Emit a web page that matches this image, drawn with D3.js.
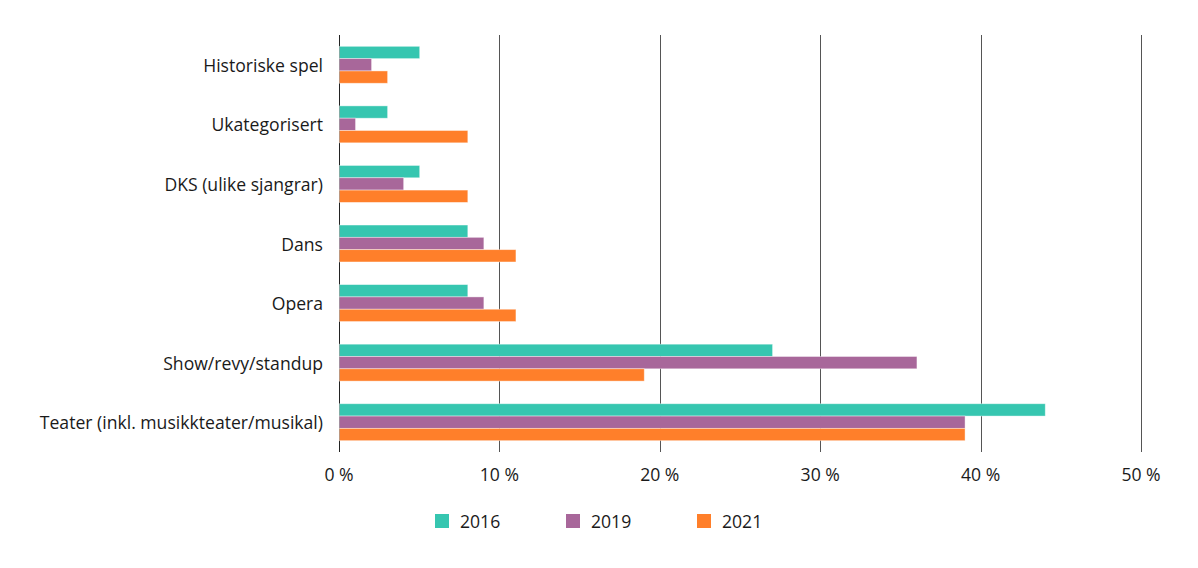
<!DOCTYPE html>
<html>
<head>
<meta charset="utf-8">
<script src="https://cdn.jsdelivr.net/npm/d3@7"></script>
<style>
  body { margin: 0; background: #fff; }
  text { font-family: "Open Sans", sans-serif; fill: #1a1a1a; }
</style>
</head>
<body>
<svg id="chart" width="1198" height="568"></svg>
<script>
var categories = ["Historiske spel", "Ukategorisert", "DKS (ulike sjangrar)", "Dans", "Opera", "Show/revy/standup", "Teater (inkl. musikkteater/musikal)"];
var years = ["2016", "2019", "2021"];
var values2016 = [5, 3, 5, 8, 8, 27, 44];
var values2019 = [2, 1, 4, 9, 9, 36, 39];
var values2021 = [3, 8, 8, 11, 11, 19, 39];
var ticks = [0, 10, 20, 30, 40, 50];
var colors = ["#36c6b0", "#a8679a", "#ff7f2a"];

var series = [values2016, values2019, values2021];

var svg = d3.select("#chart");

var x = d3.scaleLinear().domain([0, 50]).range([339, 1141]);
var y = d3.scaleBand().domain(categories).range([35, 452]).paddingInner(0.38).paddingOuter(0.19);
var y2 = d3.scaleBand().domain(years).range([0, y.bandwidth()]);

// gridlines
svg.append("g").selectAll("line")
    .data(ticks)
    .enter()
    .append("line")
        .attr("x1", function (d) { return Math.round(x(d)) + 0.5; })
        .attr("x2", function (d) { return Math.round(x(d)) + 0.5; })
        .attr("y1", 35)
        .attr("y2", 452)
        .attr("stroke", function (d) { return d === 0 ? "#222" : "#555"; })
        .attr("stroke-width", 1);

// bars
var groups = svg.append("g").selectAll("g")
    .data(categories)
    .enter()
    .append("g")
        .attr("transform", function (d) { return "translate(0," + y(d) + ")"; });

groups.selectAll("rect")
    .data(function (d, i) { return years.map(function (yr, j) { return {year: yr, value: series[j][i], c: colors[j]}; }); })
    .enter()
    .append("rect")
        .attr("x", x(0) + 0.5)
        .attr("y", function (d) { return y2(d.year); })
        .attr("width", function (d) { return x(d.value) - x(0); })
        .attr("height", y2.bandwidth())
        .attr("fill", function (d) { return d.c; })
        .attr("stroke", "#fff")
        .attr("stroke-opacity", 0.5)
        .attr("stroke-width", 0.8);

// category labels
svg.append("g").selectAll("text")
    .data(categories)
    .enter()
    .append("text")
        .attr("x", 323)
        .attr("y", function (d) { return y(d) + y.bandwidth() / 2; })
        .attr("text-anchor", "end")
        .attr("dominant-baseline", "central")
        .style("font-size", "17.6px")
        .text(function (d) { return d; });

// tick labels
svg.append("g").selectAll("text")
    .data(ticks)
    .enter()
    .append("text")
        .attr("x", function (d) { return x(d); })
        .attr("y", 474)
        .attr("text-anchor", "middle")
        .attr("dominant-baseline", "central")
        .style("font-size", "17.6px")
        .text(function (d) { return d + " %"; });

// legend
var legend = svg.append("g").selectAll("g")
    .data(years)
    .enter()
    .append("g")
        .attr("transform", function (d, i) { return "translate(" + (435 + i * 131) + ",514)"; });

legend.append("rect")
    .attr("width", 14)
    .attr("height", 14)
    .attr("fill", function (d, i) { return colors[i]; });

legend.append("text")
    .attr("x", 25)
    .attr("y", 7)
    .attr("dominant-baseline", "central")
    .style("font-size", "17.6px")
    .text(function (d) { return d; });
</script>
</body>
</html>
